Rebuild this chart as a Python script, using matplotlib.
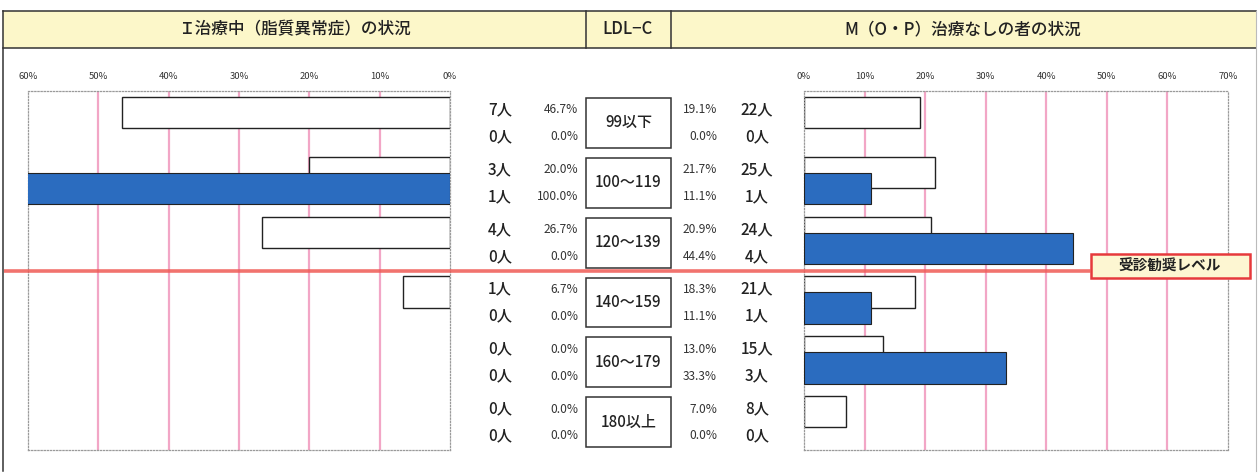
import matplotlib
matplotlib.use("Agg")
import matplotlib.pyplot as plt
from matplotlib.patches import Rectangle

plt.rcParams['font.family'] = ['Noto Sans CJK JP', 'DejaVu Sans']

# LDL-C categories
categories = ["99以下", "100～119", "120～139", "140～159", "160～179", "180以上"]

# I: under treatment (dyslipidemia)
treat_all_n = [7, 3, 4, 1, 0, 0]
treat_all_pct = [46.7, 20.0, 26.7, 6.7, 0.0, 0.0]
treat_sub_n = [0, 1, 0, 0, 0, 0]
treat_sub_pct = [0.0, 100.0, 0.0, 0.0, 0.0, 0.0]

# M (O・P): no treatment
none_all_n = [22, 25, 24, 21, 15, 8]
none_all_pct = [19.1, 21.7, 20.9, 18.3, 13.0, 7.0]
none_sub_n = [0, 1, 4, 1, 3, 0]
none_sub_pct = [0.0, 11.1, 44.4, 11.1, 33.3, 0.0]

left_ticks = [60, 50, 40, 30, 20, 10, 0]
right_ticks = [0, 10, 20, 30, 40, 50, 60, 70]

W, H = 1259, 473
DPI = 100
fig = plt.figure(figsize=(W / DPI, H / DPI), dpi=DPI)

BLUE = "#2b6cbf"
PINK = "#f2a6c6"
CREAM = "#fcf7c9"
RED = "#ef5a55"

PLOT_TOP, PLOT_BOT = 91, 450
n = len(categories)


def px_axes(x0, x1, y0, y1):
    return fig.add_axes([x0 / W, 1 - y1 / H, (x1 - x0) / W, (y1 - y0) / H])


# background overlay in pixel coordinates for frame and header
bg = px_axes(0, W, 0, H)
bg.set_xlim(0, W)
bg.set_ylim(H, 0)
bg.axis("off")
bg.set_zorder(0)

HEAD_T, HEAD_B = 11, 48
bg.add_patch(Rectangle((3, HEAD_T), 1253, HEAD_B - HEAD_T, facecolor=CREAM,
                       edgecolor="none"))
frame_kw = dict(color="#333333", lw=1.1)
bg.plot([3, 1256], [HEAD_T, HEAD_T], **frame_kw)
bg.plot([3, 1256], [HEAD_B, HEAD_B], **frame_kw)
bg.plot([3, 3], [HEAD_T, 471], **frame_kw)
bg.plot([1256, 1256], [HEAD_T, 471], color="#bbbbbb", lw=0.8)
bg.plot([586, 586], [HEAD_T, HEAD_B], **frame_kw)
bg.plot([671, 671], [HEAD_T, HEAD_B], **frame_kw)

head_kw = dict(ha="center", va="center", fontsize=12, color="#222222",
               fontweight="medium")
bg.text(294, 29, "Ｉ治療中（脂質異常症）の状況", **head_kw)
bg.text(628, 29, "LDL−C", **head_kw)
bg.text(963, 29, "M（O・P）治療なしの者の状況", **head_kw)


def setup_bar_axes(ax, xlim, ticks):
    ax.set_xlim(*xlim)
    ax.set_ylim(n, 0)
    ax.set_xticks(ticks)
    ax.set_xticklabels([f"{t}%" for t in ticks], fontsize=6.8, color="#333333")
    ax.xaxis.tick_top()
    ax.tick_params(axis="x", length=0, pad=7)
    ax.set_yticks([])
    for t in ticks:
        if t not in (xlim[0], xlim[1]):
            ax.axvline(t, color=PINK, lw=1.6, zorder=1)
    for sp in ax.spines.values():
        sp.set_linestyle((0, (1, 1.5)))
        sp.set_color("#9a9a9a")
        sp.set_linewidth(0.9)
    ax.patch.set_alpha(0)


def edge_widths(values, lw):
    # empty categories get no outline
    return [lw if v > 0 else 0 for v in values]


pos_all = [i + 0.36 for i in range(n)]
pos_sub = [i + 0.63 for i in range(n)]
BAR_H = 0.525

axL = px_axes(28, 450, PLOT_TOP, PLOT_BOT)
setup_bar_axes(axL, (60, 0), left_ticks)
axL.barh(pos_all, treat_all_pct, height=BAR_H, color="white",
         edgecolor="#222222", lw=edge_widths(treat_all_pct, 1.0), zorder=2)
axL.barh(pos_sub, treat_sub_pct, height=BAR_H, color=BLUE,
         edgecolor="#222222", lw=edge_widths(treat_sub_pct, 0.8), zorder=3)

axR = px_axes(804, 1228, PLOT_TOP, PLOT_BOT)
setup_bar_axes(axR, (0, 70), right_ticks)
axR.barh(pos_all, none_all_pct, height=BAR_H, color="white",
         edgecolor="#222222", lw=edge_widths(none_all_pct, 1.0), zorder=2)
axR.barh(pos_sub, none_sub_pct, height=BAR_H, color=BLUE,
         edgecolor="#222222", lw=edge_widths(none_sub_pct, 0.8), zorder=3)

# middle column: counts, percentages and category boxes
mid = px_axes(450, 804, PLOT_TOP, PLOT_BOT)
mid.set_xlim(450, 804)
mid.set_ylim(n, 0)
mid.axis("off")
mid.patch.set_alpha(0)

row1, row2 = 0.315, 0.765
num_kw = dict(va="center", fontsize=11, color="#222222", fontweight="medium")
pct_kw = dict(va="center", fontsize=8.6, color="#333333")
for i, cat in enumerate(categories):
    mid.add_patch(Rectangle((586, i + 0.117), 85, 0.833, facecolor="white",
                            edgecolor="#333333", lw=1.1))
    mid.text(628.5, i + 0.53, cat, ha="center", va="center", fontsize=10.8,
             color="#222222", fontweight="medium")
    mid.text(500, i + row1, f"{treat_all_n[i]}人", ha="center", **num_kw)
    mid.text(500, i + row2, f"{treat_sub_n[i]}人", ha="center", **num_kw)
    mid.text(578, i + row1, f"{treat_all_pct[i]:.1f}%", ha="right", **pct_kw)
    mid.text(578, i + row2, f"{treat_sub_pct[i]:.1f}%", ha="right", **pct_kw)
    mid.text(717, i + row1, f"{none_all_pct[i]:.1f}%", ha="right", **pct_kw)
    mid.text(717, i + row2, f"{none_sub_pct[i]:.1f}%", ha="right", **pct_kw)
    mid.text(757, i + row1, f"{none_all_n[i]}人", ha="center", **num_kw)
    mid.text(757, i + row2, f"{none_sub_n[i]}人", ha="center", **num_kw)

# referral threshold line between 120-139 and 140-159
top = px_axes(0, W, 0, H)
top.set_xlim(0, W)
top.set_ylim(H, 0)
top.axis("off")
top.patch.set_alpha(0)
line_y = PLOT_TOP + 3 * (PLOT_BOT - PLOT_TOP) / n
top.plot([4, 1091], [line_y, line_y], color=RED, lw=2.6, alpha=0.85,
         solid_capstyle="butt")
top.add_patch(Rectangle((1091, 254), 159, 24, facecolor="#fdf6d2",
                        edgecolor="#e6393c", lw=1.8))
top.text(1170, 266, "受診勧奨レベル", ha="center", va="center", fontsize=10.5,
         fontweight="bold", color="#222222")

fig.savefig("out.png", dpi=DPI)
